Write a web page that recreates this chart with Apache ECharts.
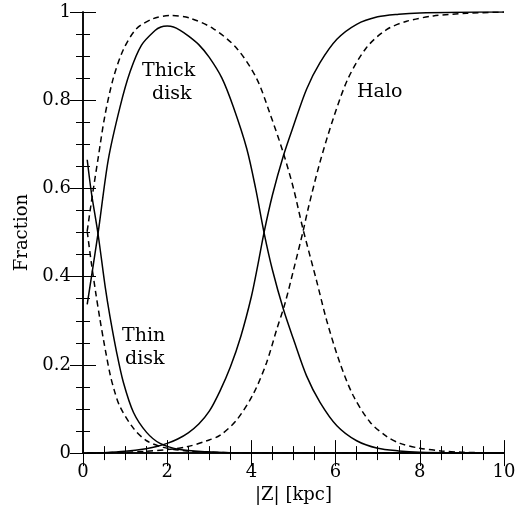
<!DOCTYPE html>
<html>
<head>
<meta charset="utf-8">
<script src="https://cdn.jsdelivr.net/npm/echarts@6/dist/echarts.min.js"></script>
<style>html,body{margin:0;padding:0;background:#fff;}#c{width:525px;height:509px;}</style>
</head>
<body>
<div id="c"></div>
<script>
// x-axis ticks and y-axis ticks
const xTicks = [0, 2, 4, 6, 8, 10];
const yTicks = [0, 0.2, 0.4, 0.6, 0.8, 1];

// Solid model
const thinSolidX = [0.1, 0.2, 0.36, 0.53, 0.64, 0.8, 0.96, 1.2, 1.51, 1.83, 2.3, 2.94, 3.5, 4.5, 10];
const thinSolidY = [0.665, 0.59, 0.495, 0.375, 0.31, 0.228, 0.16, 0.092, 0.047, 0.022, 0.008, 0.003, 0.001, 0.0, 0.0];
const thickSolidX = [0.1, 0.36, 0.6, 0.88, 1.12, 1.39, 1.71, 1.85, 2.0, 2.15, 2.3, 2.5, 2.75, 3.0, 3.3, 3.57, 3.89, 4.1, 4.3, 4.5, 4.76, 5.0, 5.31, 5.63, 6.03, 6.5, 7.0, 7.5, 8.0, 9.0, 10];
const thickSolidY = [0.337, 0.5, 0.665, 0.785, 0.865, 0.925, 0.958, 0.966, 0.968, 0.966, 0.959, 0.946, 0.926, 0.897, 0.85, 0.785, 0.69, 0.6, 0.5, 0.415, 0.326, 0.258, 0.175, 0.115, 0.062, 0.028, 0.011, 0.005, 0.002, 0.0005, 0.0];
const haloSolidX = [0.1, 0.5, 1.0, 1.5, 1.75, 2.0, 2.25, 2.5, 2.75, 3.0, 3.25, 3.5, 3.75, 4.0, 4.15, 4.3, 4.5, 4.76, 5.0, 5.31, 5.63, 6.03, 6.5, 7.0, 7.5, 8.0, 9.0, 10];
const haloSolidY = [0.0, 0.001, 0.004, 0.01, 0.015, 0.022, 0.032, 0.046, 0.066, 0.095, 0.14, 0.195, 0.265, 0.355, 0.425, 0.5, 0.585, 0.674, 0.742, 0.825, 0.885, 0.938, 0.972, 0.989, 0.995, 0.998, 0.9995, 1.0];

// Dashed model
const thinDashX = [0.1, 0.2, 0.3, 0.4, 0.5, 0.64, 0.75, 0.88, 1.2, 1.51, 1.91, 2.46, 3.0, 4.0, 10];
const thinDashY = [0.503, 0.43, 0.365, 0.305, 0.25, 0.18, 0.14, 0.105, 0.056, 0.028, 0.013, 0.005, 0.002, 0.0, 0.0];
const thickDashX = [0.1, 0.2, 0.36, 0.52, 0.72, 0.96, 1.27, 1.67, 2.07, 2.54, 3.1, 3.65, 4.12, 4.44, 4.76, 5.0, 5.22, 5.55, 5.79, 6.1, 6.42, 6.82, 7.21, 7.53, 8.0, 8.5, 9.0, 10];
const thickDashY = [0.503, 0.57, 0.669, 0.765, 0.85, 0.915, 0.962, 0.985, 0.992, 0.986, 0.962, 0.918, 0.85, 0.77, 0.68, 0.6, 0.51, 0.39, 0.3, 0.205, 0.13, 0.07, 0.038, 0.022, 0.011, 0.005, 0.002, 0.0];
const haloDashX = [0.1, 1.0, 1.5, 2.0, 2.46, 2.94, 3.25, 3.65, 4.05, 4.36, 4.6, 4.8, 5.0, 5.22, 5.35, 5.63, 5.95, 6.3, 6.74, 7.21, 7.69, 8.32, 9.11, 10];
const haloDashY = [0.0, 0.002, 0.004, 0.008, 0.014, 0.028, 0.04, 0.075, 0.135, 0.205, 0.28, 0.34, 0.415, 0.5, 0.555, 0.66, 0.76, 0.85, 0.92, 0.96, 0.979, 0.991, 0.997, 1.0];

const zip = (xs, ys) => xs.map((x, i) => [x, ys[i]]);
const FONT = 'DejaVu Serif';

function line(name, xs, ys, dashed) {
  return {
    name, type: 'line', data: zip(xs, ys), showSymbol: false, symbol: 'none',
    smooth: 0.3, clip: true,
    lineStyle: { color: '#000', width: 1.5, type: dashed ? [6, 4] : 'solid' },
    z: 3
  };
}

const baseAxis = {
  axisLine: { show: true, lineStyle: { color: '#000', width: 1.5 } },
  axisTick: { show: true, inside: true, length: 13, lineStyle: { color: '#000', width: 1 } },
  minorTick: { show: true, splitNumber: 4, length: 7, lineStyle: { color: '#000', width: 1 } },
  splitLine: { show: false },
  minorSplitLine: { show: false }
};

const chart = echarts.init(document.getElementById('c'), null, { renderer: 'canvas' });
chart.setOption({
  backgroundColor: '#fff',
  animation: false,
  grid: { left: 83, right: 21, top: 12, bottom: 55, containLabel: false },
  xAxis: [
    Object.assign({}, baseAxis, {
      type: 'value', min: 0, max: 10, interval: 2, position: 'bottom',
      name: '|Z| [kpc]', nameLocation: 'middle', nameGap: 30,
      nameTextStyle: { fontFamily: FONT, fontSize: 18, color: '#000' },
      axisLabel: { show: true, margin: 10, fontFamily: FONT, fontSize: 18, color: '#000',
        formatter: v => xTicks.includes(v) ? String(v) : '' }
    }),
    Object.assign({}, baseAxis, {
      type: 'value', min: 0, max: 10, interval: 2, position: 'top',
      axisLabel: { show: false }
    })
  ],
  yAxis: [
    Object.assign({}, baseAxis, {
      type: 'value', min: 0, max: 1, interval: 0.2, position: 'left',
      name: 'Fraction', nameLocation: 'middle', nameGap: 48,
      nameTextStyle: { fontFamily: FONT, fontSize: 18, color: '#000' },
      axisLabel: { show: true, margin: 12, fontFamily: FONT, fontSize: 18, color: '#000',
        formatter: v => { const t = yTicks.find(k => Math.abs(k - v) < 1e-9); return t === undefined ? '' : String(t); } }
    }),
    Object.assign({}, baseAxis, {
      type: 'value', min: 0, max: 1, interval: 0.2, position: 'right',
      axisLabel: { show: false }
    })
  ],
  series: [
    line('Thin disk', thinSolidX, thinSolidY, false),
    line('Thick disk', thickSolidX, thickSolidY, false),
    line('Halo', haloSolidX, haloSolidY, false),
    line('Thin disk (dashed)', thinDashX, thinDashY, true),
    line('Thick disk (dashed)', thickDashX, thickDashY, true),
    line('Halo (dashed)', haloDashX, haloDashY, true)
  ],
  graphic: [
    { type: 'text', left: 142, top: 62, style: { text: 'Thick', font: '19px "DejaVu Serif"', fill: '#000' } },
    { type: 'text', left: 152, top: 85, style: { text: 'disk', font: '19px "DejaVu Serif"', fill: '#000' } },
    { type: 'text', left: 357, top: 83, style: { text: 'Halo', font: '19px "DejaVu Serif"', fill: '#000' } },
    { type: 'text', left: 122, top: 327, style: { text: 'Thin', font: '19px "DejaVu Serif"', fill: '#000' } },
    { type: 'text', left: 125, top: 350, style: { text: 'disk', font: '19px "DejaVu Serif"', fill: '#000' } }
  ]
});
</script>
</body>
</html>
